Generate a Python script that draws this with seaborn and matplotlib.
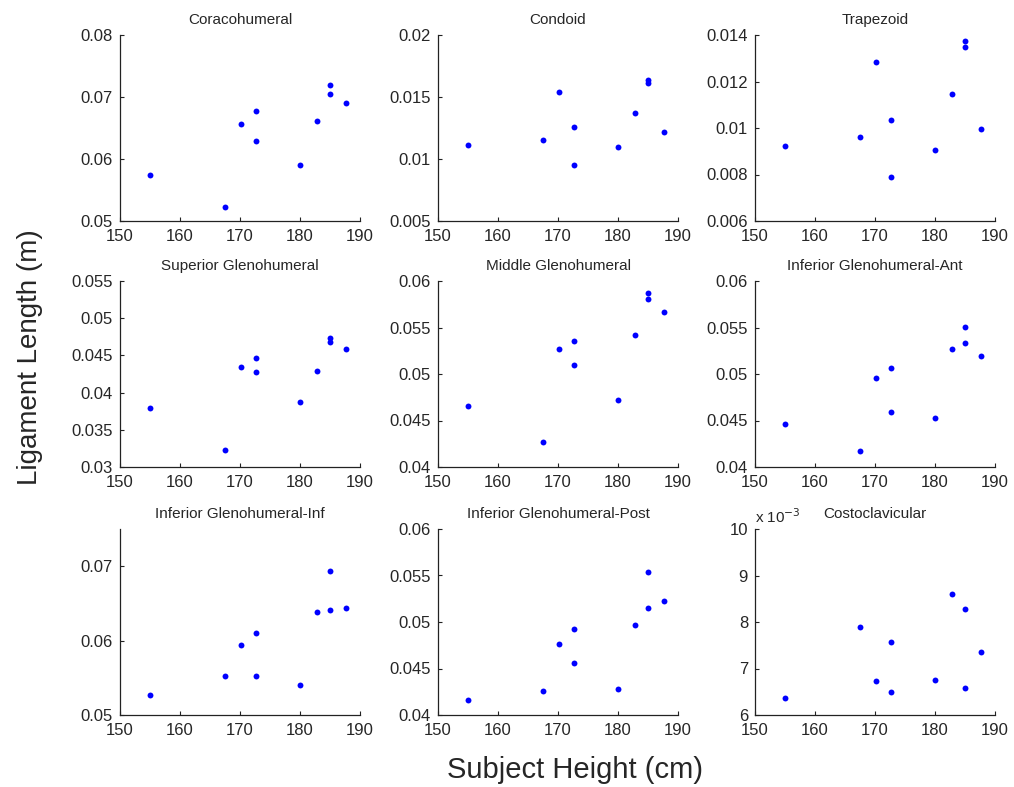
import numpy as np
import pandas as pd
import matplotlib
matplotlib.use("Agg")
import matplotlib.pyplot as plt
from matplotlib.ticker import FuncFormatter
import seaborn as sns

heights = [155, 167.5, 170.2, 172.7, 172.7, 180, 182.8, 185, 185, 187.6]

titles = ["Coracohumeral", "Condoid", "Trapezoid",
          "Superior Glenohumeral", "Middle Glenohumeral", "Inferior Glenohumeral-Ant",
          "Inferior Glenohumeral-Inf", "Inferior Glenohumeral-Post", "Costoclavicular"]

coracohumeral = [0.0574, 0.0523, 0.0657, 0.0678, 0.0629, 0.0590, 0.0662, 0.0720, 0.0705, 0.0691]
condoid = [0.0111, 0.0115, 0.0154, 0.0126, 0.0095, 0.0110, 0.0137, 0.0164, 0.0161, 0.0122]
trapezoid = [0.00923, 0.00963, 0.01285, 0.01036, 0.00788, 0.00905, 0.01145, 0.01373, 0.01348, 0.00994]
superior_gh = [0.0379, 0.0323, 0.0434, 0.0447, 0.0428, 0.0387, 0.0429, 0.0473, 0.0468, 0.0458]
middle_gh = [0.0466, 0.0427, 0.0527, 0.0536, 0.0510, 0.0472, 0.0542, 0.0587, 0.0581, 0.0567]
inferior_gh_ant = [0.0446, 0.0417, 0.0496, 0.0506, 0.0459, 0.0453, 0.0527, 0.0551, 0.0533, 0.0519]
inferior_gh_inf = [0.0527, 0.0552, 0.0594, 0.0610, 0.0553, 0.0540, 0.0638, 0.0694, 0.0641, 0.0644]
inferior_gh_post = [0.0416, 0.0426, 0.0476, 0.0493, 0.0456, 0.0428, 0.0497, 0.0554, 0.0515, 0.0523]
costoclavicular = [0.00636, 0.00790, 0.00673, 0.00756, 0.00649, 0.00675, 0.00860, 0.00827, 0.00657, 0.00735]

series = [coracohumeral, condoid, trapezoid, superior_gh, middle_gh,
          inferior_gh_ant, inferior_gh_inf, inferior_gh_post, costoclavicular]

y_limits = [(0.05, 0.08), (0.005, 0.02), (0.006, 0.014),
            (0.03, 0.055), (0.04, 0.06), (0.04, 0.06),
            (0.05, 0.075), (0.04, 0.06), (0.006, 0.010)]
y_ticks = [[0.05, 0.06, 0.07, 0.08], [0.005, 0.01, 0.015, 0.02],
           [0.006, 0.008, 0.01, 0.012, 0.014],
           [0.03, 0.035, 0.04, 0.045, 0.05, 0.055],
           [0.04, 0.045, 0.05, 0.055, 0.06], [0.04, 0.045, 0.05, 0.055, 0.06],
           [0.05, 0.06, 0.07], [0.04, 0.045, 0.05, 0.055, 0.06],
           [0.006, 0.007, 0.008, 0.009, 0.010]]
x_ticks = [150, 160, 170, 180, 190]

sns.set_style("ticks")
plt.rcParams['font.family'] = ['Liberation Sans', 'DejaVu Sans']
plt.rcParams['xtick.direction'] = 'in'
plt.rcParams['ytick.direction'] = 'in'

W, H = 1014, 787
fig = plt.figure(figsize=(W / 100, H / 100), dpi=100)

col_x = [120, 438, 755]
row_top = [35, 281, 529]
ax_w, ax_h = 240, 186

for i, (title, vals) in enumerate(zip(titles, series)):
    r, c = divmod(i, 3)
    x0 = col_x[c] / W
    y0 = 1 - (row_top[r] + ax_h) / H
    ax = fig.add_axes([x0, y0, ax_w / W, ax_h / H])
    df = pd.DataFrame({"height": heights, "length": vals})
    sns.scatterplot(data=df, x="height", y="length", ax=ax, color="#0000ff",
                    s=18, marker="o", edgecolor="#0000ff", linewidth=0)
    ax.set_xlim(150, 190)
    ax.set_ylim(*y_limits[i])
    ax.set_xticks(x_ticks)
    ax.set_yticks(y_ticks[i])
    if i == 8:
        ax.yaxis.set_major_formatter(FuncFormatter(lambda v, p: "%g" % round(v * 1000, 6)))
        ax.text(0.0, 1.015, "x 10$^{-3}$", transform=ax.transAxes, fontsize=11,
                ha="left", va="bottom")
    else:
        ax.yaxis.set_major_formatter(FuncFormatter(lambda v, p: "%g" % round(v, 6)))
    ax.xaxis.set_major_formatter(FuncFormatter(lambda v, p: "%g" % v))
    ax.set_xlabel("")
    ax.set_ylabel("")
    ax.set_title(title, fontsize=11, pad=8)
    sns.despine(ax=ax)
    for sp in ("left", "bottom"):
        ax.spines[sp].set_color("#222222")
        ax.spines[sp].set_linewidth(0.9)
    ax.tick_params(axis="both", labelsize=12, length=3, width=0.8, color="#222222")
    ax.tick_params(axis="x", pad=5.5)
    ax.tick_params(axis="y", pad=5)

fig.text(575 / W, 1 - 770 / H, "Subject Height (cm)", fontsize=21,
         ha="center", va="center")
fig.text(30 / W, 1 - 357 / H, "Ligament Length (m)", fontsize=20,
         ha="center", va="center", rotation=90)

fig.savefig("out.png", dpi=100)
